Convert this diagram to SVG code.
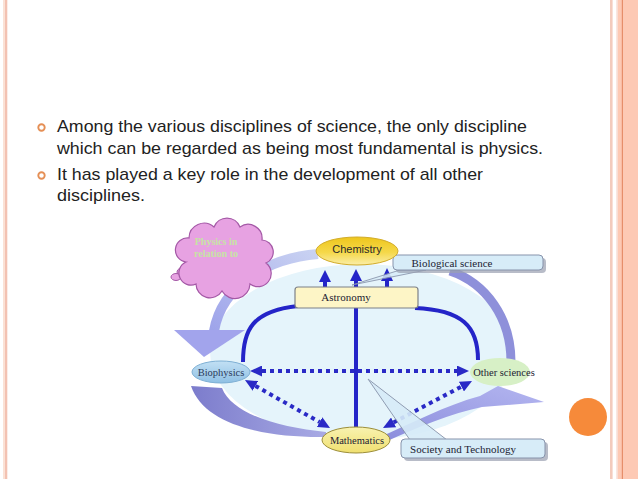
<svg xmlns="http://www.w3.org/2000/svg" width="638" height="479" viewBox="0 0 638 479">
<defs>
<style>
.body{font-family:"Liberation Sans",Arial,sans-serif;font-size:17px;fill:#222;}
.lbl{font-family:"Liberation Serif","Times New Roman",serif;font-size:11px;fill:#1c2232;text-anchor:middle;}
.dot{fill:none;stroke:#2a2ac6;stroke-width:4;stroke-dasharray:4 4;}
.solid{fill:none;stroke:#2424c8;stroke-width:4;}
.head{fill:#2424c8;}
.bullet{fill:none;stroke:#e58f55;stroke-width:1.9;}
.callout{fill:#d7ecf8;stroke:#8793ab;stroke-width:1;}
.shadow{fill:#9aa0b0;opacity:0.7;}
</style>
<marker id="ah" viewBox="0 0 12 11" markerUnits="userSpaceOnUse" markerWidth="12" markerHeight="11" refX="0" refY="5.5" orient="auto-start-reverse">
<path d="M0,0 L12,5.5 L0,11 z" fill="#2a2ac6"/>
</marker>
<linearGradient id="gChem" x1="0" y1="0" x2="0" y2="1">
<stop offset="0" stop-color="#eec61c"/><stop offset="0.55" stop-color="#f5d84a"/><stop offset="1" stop-color="#fbeea8"/>
</linearGradient>
<linearGradient id="gBio" x1="0" y1="0" x2="0" y2="1">
<stop offset="0" stop-color="#c2e0f4"/><stop offset="1" stop-color="#8fc0e4"/>
</linearGradient>
<linearGradient id="gMath" x1="0" y1="0" x2="0" y2="1">
<stop offset="0" stop-color="#f8f2b0"/><stop offset="1" stop-color="#f0e070"/>
</linearGradient>
<linearGradient id="gArc" x1="1" y1="0" x2="0" y2="1">
<stop offset="0" stop-color="#c9d2f2"/><stop offset="1" stop-color="#9ea4ea"/>
</linearGradient>
<linearGradient id="gRight" x1="0" y1="1" x2="1" y2="0">
<stop offset="0" stop-color="#8a8cdc"/><stop offset="1" stop-color="#b4b6f0"/>
</linearGradient>
<linearGradient id="gLeftLow" x1="0" y1="0" x2="1" y2="0">
<stop offset="0" stop-color="#7c7ccc"/><stop offset="1" stop-color="#a8aae4"/>
</linearGradient>
</defs>

<rect x="0" y="0" width="638" height="479" fill="#ffffff"/>

<!-- slide borders -->
<g id="borders">
<rect x="3" y="0" width="2" height="479" fill="#fbe2d6"/>
<rect x="5" y="0" width="2.3" height="479" fill="#f3c2b2"/>
<rect x="610" y="0" width="2.6" height="479" fill="#f3cbbd"/>
<rect x="616.5" y="0" width="1.2" height="479" fill="#f6cfc2"/>
<rect x="618" y="0" width="20" height="479" fill="#fdc9b4"/>
<rect x="621.8" y="0" width="1.2" height="479" fill="#e68e6a"/>
</g>

<!-- body text -->
<g id="text">
<circle class="bullet" cx="41.5" cy="127.5" r="3.2"/>
<text class="body" x="57" y="132" textLength="470" lengthAdjust="spacingAndGlyphs">Among the various disciplines of science, the only discipline</text>
<text class="body" x="57" y="154" textLength="486" lengthAdjust="spacingAndGlyphs">which can be regarded as being most fundamental is physics.</text>
<circle class="bullet" cx="41.5" cy="175.5" r="3.2"/>
<text class="body" x="57" y="180" textLength="426" lengthAdjust="spacingAndGlyphs">It has played a key role in the development of all other</text>
<text class="body" x="57" y="201" textLength="88" lengthAdjust="spacingAndGlyphs">disciplines.</text>
</g>

<!-- diagram background and swooshes -->
<g id="background">
<ellipse cx="362" cy="352" rx="152" ry="88" fill="#e5f4fb"/>
<path d="M318,254 C268,258 222,285 214,331" fill="none" stroke="url(#gArc)" stroke-width="10"/>
<polygon points="174,330 245,330 204,357" fill="#a2a4ec"/>
<path d="M191,386 L222,388 C232,414 278,427 326,432 L326,437 C262,438 204,424 191,386 Z" fill="url(#gLeftLow)"/>
<path d="M450,271 C486,283 511,318 511,362" fill="none" stroke="#8e90da" stroke-width="9"/>
<path d="M378,438 C410,424 446,405 480,396 L498,386 L544,402 L482,407 C452,413 416,428 385,442 Z" fill="url(#gRight)"/>
</g>

<!-- connectors -->
<g id="connectors">
<line class="solid" x1="356" y1="279" x2="356" y2="429"/>
<line class="solid" x1="325" y1="281" x2="325" y2="288"/>
<line class="solid" x1="387" y1="280" x2="387" y2="288"/>
<polygon class="head" points="319,282 331,282 325,270"/>
<polygon class="head" points="350,281 362,281 356,269"/>
<polygon class="head" points="381,281 393,281 387,268"/>
<path class="solid" d="M298,306 C252,311 243,330 243,362"/>
<path class="solid" d="M415,308 C462,310 478,326 478,360"/>
<line class="dot" x1="262" y1="371" x2="457" y2="371" marker-start="url(#ah)" marker-end="url(#ah)"/>
<line class="dot" x1="255.4" y1="385.9" x2="319.6" y2="422.1" marker-start="url(#ah)" marker-end="url(#ah)"/>
<line class="dot" x1="393.6" y1="422.4" x2="461.4" y2="386.6" marker-start="url(#ah)" marker-end="url(#ah)"/>
</g>

<!-- cloud -->
<g id="cloud">
<ellipse cx="185" cy="272" rx="8" ry="5" fill="#e7a2e2" stroke="#a458a6" stroke-width="1"/>
<ellipse cx="176" cy="277" rx="5" ry="3.5" fill="#e7a2e2" stroke="#a458a6" stroke-width="1"/>
<path d="M186,262 A12,12 0 0 1 189,238 A15,15 0 0 1 214,227 A14,14 0 0 1 240,227 A14,14 0 0 1 262,240 A12,12 0 0 1 266,263 A13,13 0 0 1 250,284 A15,15 0 0 1 222,291 A14,14 0 0 1 196,284 A11,11 0 0 1 186,262 Z" fill="#e7a2e2" stroke="#a458a6" stroke-width="1.2"/>
<text x="216" y="245" font-family="Liberation Serif, serif" font-size="10" fill="#c6e4a4" text-anchor="middle" font-weight="bold">Physics in</text>
<text x="216" y="257" font-family="Liberation Serif, serif" font-size="10" fill="#c6e4a4" text-anchor="middle" font-weight="bold">relation to</text>
</g>

<!-- Biological science callout -->
<g id="biological">
<polygon class="callout" points="400,270 426,270 352,285" opacity="0.85"/>
<rect class="shadow" x="396" y="258" width="150" height="15" rx="4"/>
<rect class="callout" x="393" y="255" width="150" height="15" rx="4"/>
<text class="lbl" x="452" y="266.5">Biological science</text>
</g>

<!-- Chemistry -->
<g id="chemistry">
<ellipse cx="357" cy="251" rx="41" ry="14" fill="url(#gChem)" stroke="#d2ac2a" stroke-width="1"/>
<text x="357" y="253" font-family="Liberation Sans, Arial, sans-serif" font-size="11" fill="#2a2a2a" text-anchor="middle">Chemistry</text>
</g>

<!-- Astronomy -->
<g id="astronomy">
<rect x="295" y="287" width="123" height="21" rx="3" fill="#fdf5c6" stroke="#7d8088" stroke-width="1.2"/>
<text class="lbl" x="346" y="301">Astronomy</text>
</g>

<!-- Biophysics -->
<g id="biophysics">
<ellipse cx="221" cy="372" rx="29" ry="11" fill="url(#gBio)" stroke="#7fb0d4" stroke-width="1"/>
<text class="lbl" x="221" y="375.5" style="font-size:10.5px;fill:#2a3a5a">Biophysics</text>
</g>

<!-- Other sciences -->
<g id="other">
<ellipse cx="500" cy="372" rx="30" ry="14" fill="#d7f0c6"/>
<text class="lbl" x="504" y="375.5" style="font-size:10.5px">Other sciences</text>
</g>

<!-- Mathematics -->
<g id="mathematics">
<ellipse cx="356" cy="440" rx="34" ry="13" fill="url(#gMath)" stroke="#9c8e3a" stroke-width="1"/>
<text class="lbl" x="357" y="443.5" style="font-size:10.5px">Mathematics</text>
</g>

<!-- Society and Technology callout -->
<g id="society">
<polygon class="callout" points="410,440 447,440 368,379" opacity="0.9"/>
<rect class="shadow" x="404" y="442" width="144" height="19" rx="4"/>
<rect class="callout" x="401" y="439" width="144" height="19" rx="4"/>
<text class="lbl" x="463" y="452.5">Society and Technology</text>
</g>

<!-- orange dot -->
<circle id="dot" cx="588" cy="417" r="19" fill="#f68a3a"/>
</svg>
